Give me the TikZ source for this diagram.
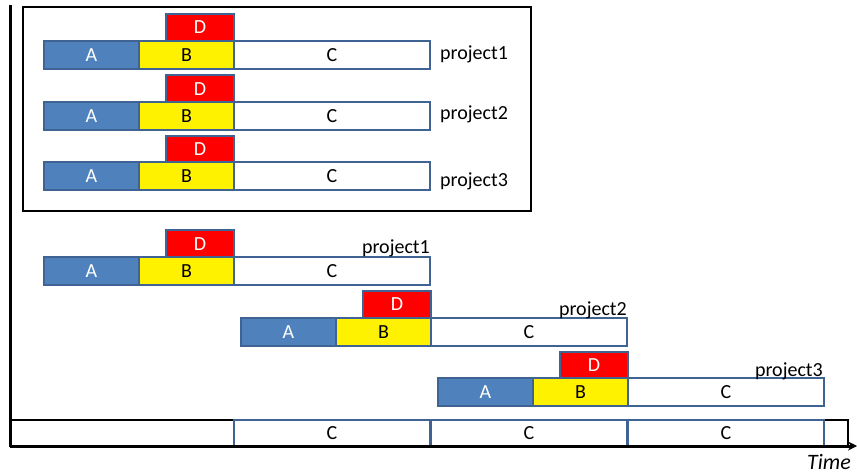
\documentclass[tikz,border=0pt]{standalone}
\usepackage{fontspec}
\setmainfont{Carlito}
\usetikzlibrary{arrows.meta}
\definecolor{abl}{HTML}{4F81BD}
\definecolor{bord}{HTML}{3F6494}
\tikzset{
  bx/.style={draw=bord, line width=2pt, inner sep=0pt, minimum height=28pt, font=\fontsize{20}{24}\selectfont},
  boxA/.style={bx, fill=abl, text=white, minimum width=95pt},
  boxB/.style={bx, fill=yellow, text=black, minimum width=95pt},
  boxC/.style={bx, fill=white, text=black, minimum width=196pt},
  boxD/.style={bx, fill=red, text=white, minimum width=68pt, minimum height=27pt},
  lbl/.style={inner sep=0pt, font=\fontsize{20}{24}\selectfont},
}
\begin{document}
\begin{tikzpicture}[x=1pt,y=-1pt]
\useasboundingbox (0,0) rectangle (857,473);
% top frame
\draw[line width=2pt] (23,7) rectangle (531,211);
% top rows
\node[boxD] (d1) at (200,27.5) {D};
\node[boxA] (a1) at (91.5,55) {A};
\node[boxB] (b1) at (186.5,55) {B};
\node[boxC] (c1) at (332,55) {C};
\node[lbl, anchor=base west] (p1) at (440,60) {project1};
\node[boxD] (d2) at (200,89) {D};
\node[boxA] (a2) at (91.5,116) {A};
\node[boxB] (b2) at (186.5,116) {B};
\node[boxC] (c2) at (332,116) {C};
\node[lbl, anchor=base west] (p2) at (440,120) {project2};
\node[boxD] (d3) at (200,149.5) {D};
\node[boxA] (a3) at (91.5,176.5) {A};
\node[boxB] (b3) at (186.5,176.5) {B};
\node[boxC] (c3) at (332,176.5) {C};
\node[lbl, anchor=base west] (p3) at (440,187) {project3};
% staggered rows
\node[boxD] (e1) at (200,244) {D};
\node[boxA] (f1) at (91.5,271) {A};
\node[boxB] (g1) at (186.5,271) {B};
\node[boxC] (h1) at (332,271) {C};
\node[lbl, anchor=base east] (q1) at (430,254) {project1};
\node[boxD] (e2) at (397,304.5) {D};
\node[boxA] (f2) at (288.5,332) {A};
\node[boxB] (g2) at (383.5,332) {B};
\node[boxC] (h2) at (529,332) {C};
\node[lbl, anchor=base east] (q2) at (627,315) {project2};
\node[boxD] (e3) at (594,365) {D};
\node[boxA] (f3) at (485.5,392) {A};
\node[boxB] (g3) at (580.5,392) {B};
\node[boxC] (h3) at (726,392) {C};
\node[lbl, anchor=base east] (q3) at (823,376) {project3};
% bottom strip
\draw[line width=2pt] (10,420) rectangle (848,446);
\node[boxC, minimum height=26pt] (k1) at (332,433) {C};
\node[boxC, minimum height=26pt] (k2) at (529,433) {C};
\node[boxC, minimum height=26pt] (k3) at (726,433) {C};
% axes
\coordinate (o) at (10,446);
\coordinate (top) at (10,5);
\coordinate (xend) at (857,446);
\draw[line width=3pt] (top) -- (o);
\draw[line width=3pt, -{Stealth[length=9pt,width=9pt]}] (o) -- (xend);
\node[lbl, anchor=base east, font=\fontsize{22}{26}\selectfont\itshape] (t) at (851,469) {Time};
\end{tikzpicture}
\end{document}
